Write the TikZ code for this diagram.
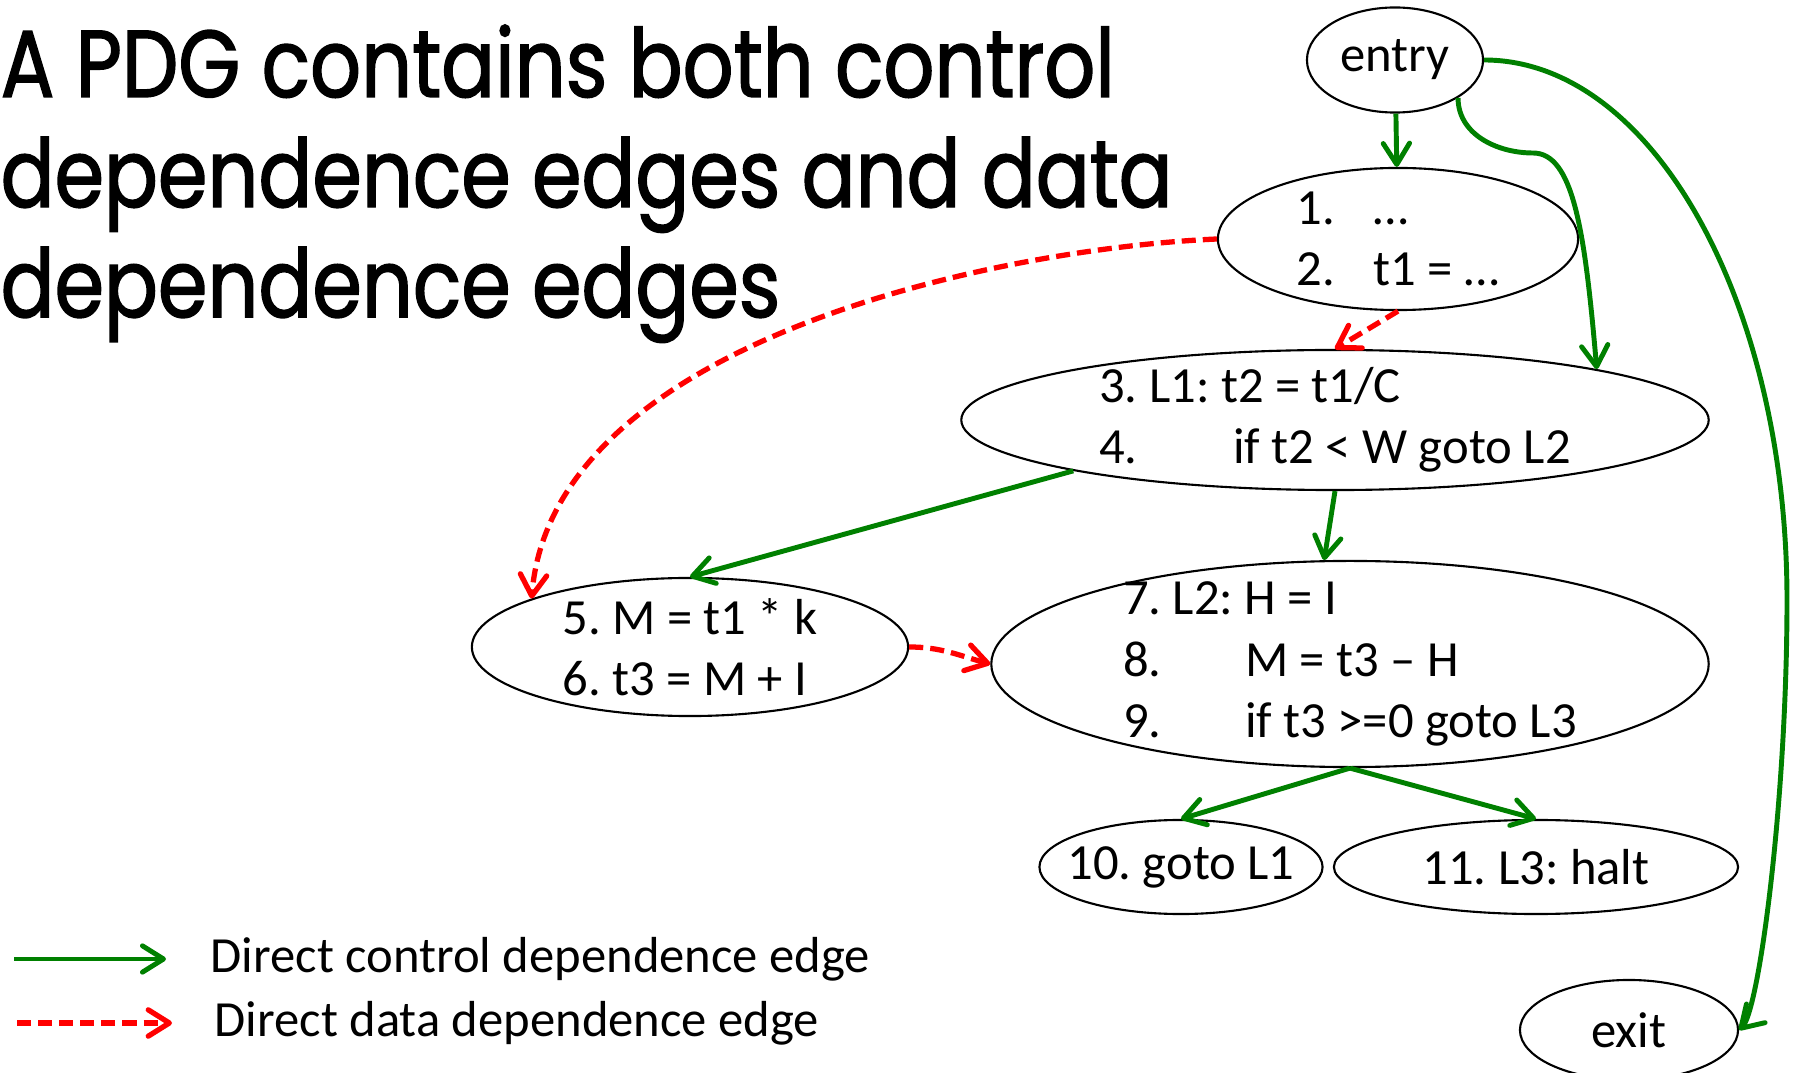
\documentclass[tikz,border=0pt]{standalone}
\usepackage{fontspec}
\setmainfont{Carlito}
\newfontfamily\titlefont[FakeStretch=0.84,FakeBold=1.5]{Poppins}
\frenchspacing
\usetikzlibrary{arrows.meta,shapes.geometric}
\definecolor{ctrlgreen}{RGB}{0,128,0}
\newcommand{\lno}[2]{\makebox[#1][l]{#2}}

\begin{document}
\begin{tikzpicture}[
    x=0.01cm, y=0.01cm,
    stmt/.style={ellipse, draw, line width=0.6pt, inner xsep=-6pt,
                 inner ysep=-8pt, align=left,
                 font=\fontsize{14.4}{17.5}\selectfont},
    ctrl/.style={-{Straight Barb[length=6pt,width=7.5pt,round]},
                 draw=ctrlgreen, line width=1.4pt},
    data/.style={-{Straight Barb[length=6pt,width=7.5pt,round]}, draw=red,
                 line width=1.5pt, dash pattern=on 4pt off 2pt},
    legend/.style={anchor=west, inner sep=0pt,
                   font=\fontsize{14.4}{17.5}\selectfont},
]
    \useasboundingbox (0,0) rectangle (1796,1072);

    % title
    \node[anchor=north west, align=left, inner sep=0pt,
          font=\titlefont\fontsize{27}{31.3}\selectfont] (title) at (0,1048)
        {A PDG contains both control\\dependence edges and data\\dependence edges};

    % statements
    \node[stmt, minimum width=1.76cm, minimum height=1.05cm] (entry) at (1395,1012) {entry};
    \node[stmt, minimum width=3.60cm, minimum height=1.42cm] (s12) at (1398,833)
        {\lno{0.77cm}{1.}…\\\lno{0.77cm}{2.}t1 = …};
    \node[stmt, minimum width=7.47cm, minimum height=1.40cm] (s34) at (1335,652)
        {3. L1: t2 = t1/C\\\lno{1.34cm}{4.}if t2 < W goto L2};
    \node[stmt, minimum width=4.36cm, minimum height=1.38cm] (s56) at (690,425)
        {5. M = t1 * k\\6. t3 = M + I};
    \node[stmt, minimum width=7.17cm, minimum height=2.06cm] (s79) at (1350,408)
        {7. L2: H = I\\\lno{1.22cm}{8.}M = t3 – H\\\lno{1.22cm}{9.}if t3 >=0 goto L3};
    \node[stmt, minimum width=2.83cm, minimum height=0.94cm] (s10) at (1181,205) {10. goto L1};
    \node[stmt, minimum width=4.04cm, minimum height=0.94cm] (s11) at (1536,205) {11. L3: halt};
    \node[stmt, minimum width=2.18cm, minimum height=1.00cm] (exit) at (1629,42) {exit};

    % control dependences
    \coordinate (elbow) at (1533,919);
    \coordinate (rim) at (1787,472);
    \draw[ctrl] (entry) -- (s12);
    \draw[ctrl] (entry.-31) to[out=-90,in=180] (elbow)
        .. controls +(40,0) and +(-12,140) .. (s34.11);
    \draw[ctrl] (entry.east) .. controls +(168,0) and +(0,298) .. (rim)
        .. controls +(0,-200) and +(20,20) .. (exit.east);
    \draw[ctrl] (s34.191) -- (s56.north);
    \draw[ctrl] (s34.south) -- (s79.104);
    \draw[ctrl] (s79.south) -- (s10.north);
    \draw[ctrl] (s79.south) -- (s11.north);

    % data dependences
    \draw[data] (s12.south) -- (s34.north);
    \draw[data] (s12.west) .. controls +(-226,-10) and +(21,255) .. (s56.163);
    \draw[data] (s56.east) to[out=0,in=165] (s79.west);

    % legend
    \coordinate (ctrlfrom) at (14,113);
    \coordinate (ctrlto) at (166,113);
    \coordinate (datafrom) at (17,49);
    \coordinate (datato) at (172,49);
    \draw[ctrl] (ctrlfrom) -- (ctrlto);
    \draw[data] (datafrom) -- (datato);
    \node[legend] (ctrllbl) at (210,113) {Direct control dependence edge};
    \node[legend] (datalbl) at (214,49) {Direct data dependence edge};
\end{tikzpicture}
\end{document}
